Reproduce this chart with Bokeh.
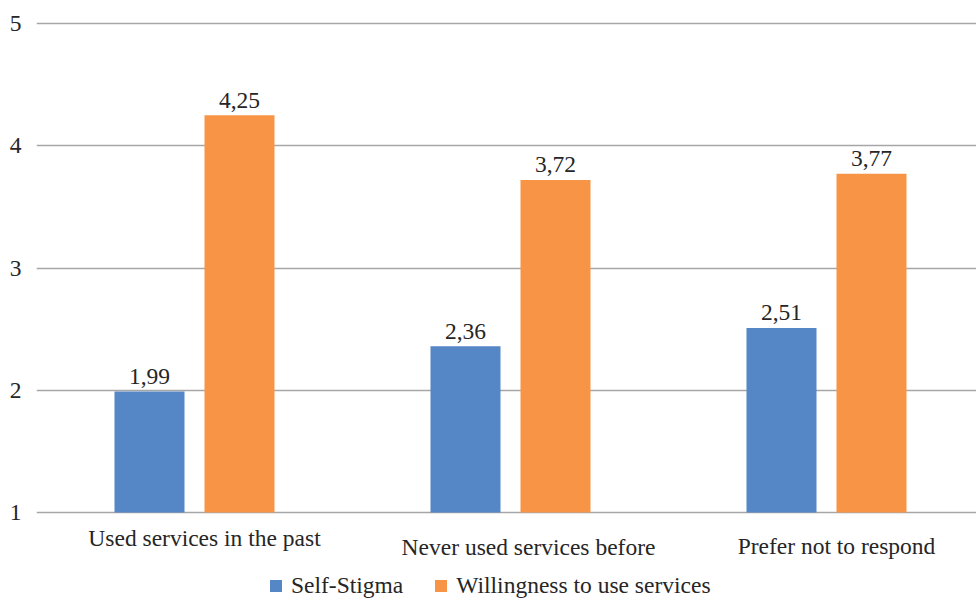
from bokeh.plotting import figure
from bokeh.models import Range1d, FixedTicker, ColumnDataSource, Legend, LegendItem
from bokeh.core.properties import value
from bokeh.embed import file_html
from bokeh.resources import INLINE

categories = ["Used services in the past", "Never used services before", "Prefer not to respond"]
self_stigma = [1.99, 2.36, 2.51]
willingness = [4.25, 3.72, 3.77]
series_names = ["Self-Stigma", "Willingness to use services"]
y_ticks = [1, 2, 3, 4, 5]

FONT = "'Liberation Serif', 'Times New Roman', serif"
FS = "23.5px"
TXT = "#262626"
BLUE = "#5586C6"
ORANGE = "#F79446"

W, H = 976, 599
LEFT = 36
PX_PER_UNIT = 122.25  # vertical pixels per value unit
CAT_PX = 316.0         # horizontal pixels per category

y_bottom = 1 - (H - 512) / PX_PER_UNIT
y_top = 5 + 23 / PX_PER_UNIT
x_end = (W - LEFT) / CAT_PX

p = figure(width=W, height=H, output_backend="svg", toolbar_location=None,
           x_range=Range1d(0, x_end), y_range=Range1d(y_bottom, y_top),
           min_border_left=LEFT, min_border_right=0, min_border_top=0, min_border_bottom=0)
p.outline_line_color = None
p.background_fill_color = "white"
p.border_fill_color = "white"
p.xaxis.visible = False
p.xgrid.visible = False

p.yaxis.ticker = FixedTicker(ticks=y_ticks)
p.yaxis.axis_line_color = None
p.yaxis.major_tick_line_color = None
p.yaxis.minor_tick_line_color = None
p.yaxis.major_label_standoff = 9
p.yaxis.major_label_text_font = FONT
p.yaxis.major_label_text_font_size = FS
p.yaxis.major_label_text_color = TXT
p.ygrid.ticker = FixedTicker(ticks=y_ticks)
p.ygrid.grid_line_color = "#A6A6A6"
p.ygrid.grid_line_width = 1.3

xc = [i + 0.5 for i in range(len(categories))]
bw = 70 / CAT_PX
off = 45 / CAT_PX

src_a = ColumnDataSource(dict(x=[c - off for c in xc], top=self_stigma,
                              lab=[f"{v:.2f}".replace(".", ",") for v in self_stigma]))
src_b = ColumnDataSource(dict(x=[c + off for c in xc], top=willingness,
                              lab=[f"{v:.2f}".replace(".", ",") for v in willingness]))

ra = p.vbar(x="x", top="top", bottom=1, width=bw, source=src_a, fill_color=BLUE, line_color=None)
rb = p.vbar(x="x", top="top", bottom=1, width=bw, source=src_b, fill_color=ORANGE, line_color=None)

for s in (src_a, src_b):
    p.text(x="x", y="top", text="lab", source=s, text_align="center", text_baseline="alphabetic",
           y_offset=-15, text_font=value(FONT), text_font_size=FS, text_color=TXT)

# category labels (placed as in the original: slightly right of the bar groups,
# middle/right a little lower)
lab_dx = [10, 18, 10]
lab_dy = [25, 34, 33]
cat_x = [c + dx / CAT_PX for c, dx in zip(xc, lab_dx)]
cat_y = [1 - dy / PX_PER_UNIT for dy in lab_dy]
p.text(x=cat_x, y=cat_y, text=categories, text_align="center", text_baseline="middle",
       text_font=value(FONT), text_font_size=FS, text_color=TXT)

legend = Legend(items=[LegendItem(label=series_names[0], renderers=[ra]),
                       LegendItem(label=series_names[1], renderers=[rb])],
                orientation="horizontal", location=(232, 0),
                glyph_width=15, glyph_height=15, label_standoff=8, spacing=30,
                padding=0, margin=0, border_line_color=None, background_fill_alpha=0,
                label_text_font=FONT, label_text_font_size=FS, label_text_color=TXT)
p.add_layout(legend)

open("out.html", "w").write(file_html(p, INLINE))
